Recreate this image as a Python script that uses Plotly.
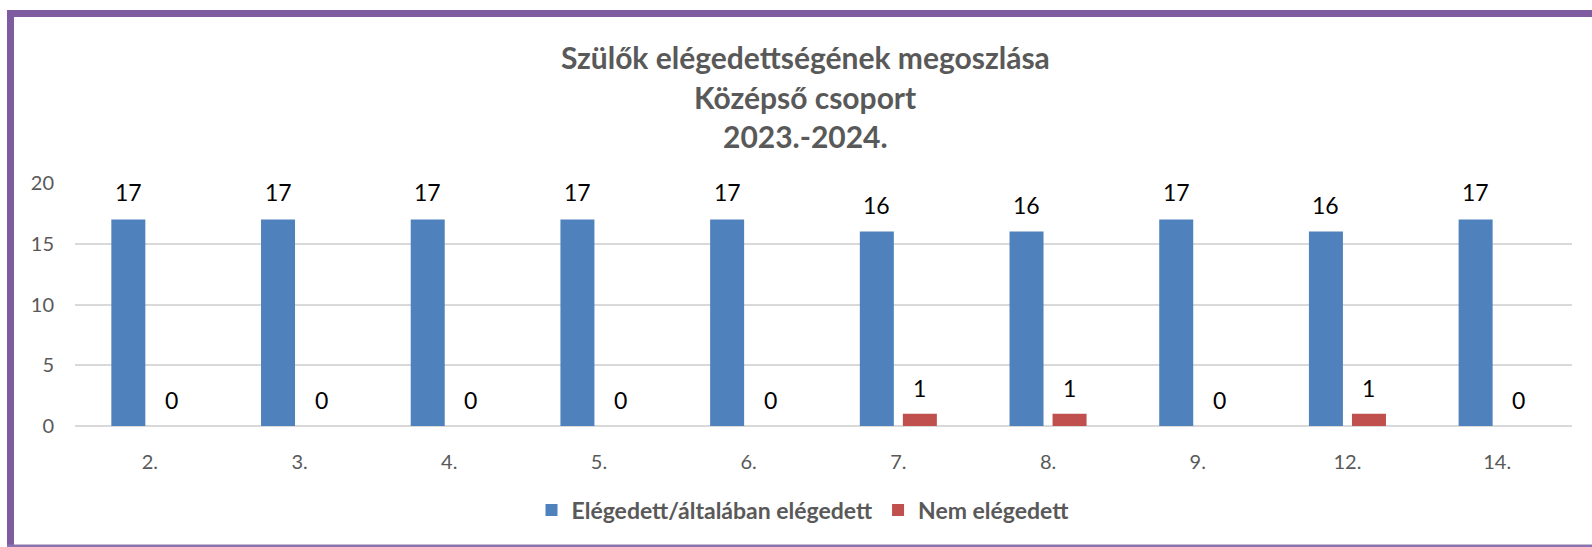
import plotly.graph_objects as go

categories = ["2.", "3.", "4.", "5.", "6.", "7.", "8.", "9.", "12.", "14."]
satisfied = [17, 17, 17, 17, 17, 16, 16, 17, 16, 17]
not_satisfied = [0, 0, 0, 0, 0, 1, 1, 0, 1, 0]
series_names = ["Elégedett/általában elégedett", "Nem elégedett"]
title_lines = ["Szülők elégedettségének megoszlása", "Középső csoport", "2023.-2024."]
y_ticks = [0, 5, 10, 15, 20]

W, H = 1592, 547
L, R, T, B = 75, 20, 183, 121
PW, PH = W - L - R, H - T - B

def px(x):
    return (x - L) / PW

def py(y):
    return (H - B - y) / PH

BLUE = "#4F81BD"
RED = "#C0504D"
GRAY = "#595959"
PURPLE = "#7F5BA0"
FONT = "Lato"

fig = go.Figure()
fig.add_trace(go.Bar(x=categories, y=satisfied, name=f"<b>{series_names[0]}</b>",
                     marker=dict(color=BLUE, line=dict(width=0))))
fig.add_trace(go.Bar(x=categories, y=not_satisfied, name=f"<b>{series_names[1]}</b>",
                     marker=dict(color=RED, line=dict(width=0))))

slot = PW / len(categories) * (1 - 0.425) / 2
for i, v in enumerate(satisfied):
    fig.add_annotation(x=i, y=v, text=str(v), showarrow=False, xshift=-slot / 2,
                       yshift=27, yanchor="middle", font=dict(size=23, color="black", family=FONT))
for i, v in enumerate(not_satisfied):
    fig.add_annotation(x=i, y=v, text=str(v), showarrow=False, xshift=slot / 2,
                       yshift=26, yanchor="middle", font=dict(size=23, color="black", family=FONT))

# title lines
for line, yc in zip(title_lines, [57, 97, 136]):
    fig.add_annotation(xref="paper", yref="paper", x=px(805), y=py(yc), text=f"<b>{line}</b>",
                       showarrow=False, xanchor="center", yanchor="middle",
                       font=dict(size=30, color=GRAY, family=FONT))

shapes = [
    dict(type="rect", xref="paper", yref="paper", x0=px(7), x1=px(W + 5), y0=py(17), y1=py(10),
         fillcolor=PURPLE, line=dict(width=0), layer="above"),
    dict(type="rect", xref="paper", yref="paper", x0=px(7), x1=px(14), y0=py(H + 2), y1=py(10),
         fillcolor=PURPLE, line=dict(width=0), layer="above"),
    dict(type="rect", xref="paper", yref="paper", x0=px(7), x1=px(W + 5), y0=py(H), y1=py(544.5),
         fillcolor="#8C72AC", line=dict(width=0), layer="above"),
]

fig.update_layout(
    width=W, height=H,
    margin=dict(l=L, r=R, t=T, b=B, autoexpand=False),
    paper_bgcolor="white", plot_bgcolor="white",
    barmode="group", bargap=0.425, bargroupgap=0.21,
    font=dict(family=FONT, color=GRAY),
    xaxis=dict(type="category", showgrid=False, showline=False, zeroline=False, ticks="",
               tickfont=dict(size=20, color=GRAY), ticklabelstandoff=22),
    yaxis=dict(range=[0, 20], tickvals=y_ticks, showgrid=True, gridcolor="#D9D9D9", gridwidth=1.5,
               zeroline=True, zerolinecolor="#D9D9D9", zerolinewidth=1.5, showline=False,
               ticks="", tickfont=dict(size=20, color=GRAY), ticklabelstandoff=20),
    legend=dict(orientation="h", x=px(803), xanchor="center", y=py(510), yanchor="middle",
                font=dict(size=23, color=GRAY, family=FONT), itemwidth=30,
                bgcolor="rgba(0,0,0,0)", traceorder="normal"),
    showlegend=True,
    shapes=shapes,
)

fig.write_html("out.html", config={"displayModeBar": False},
               post_script="document.body.style.margin='0';document.body.style.overflow='hidden';")
